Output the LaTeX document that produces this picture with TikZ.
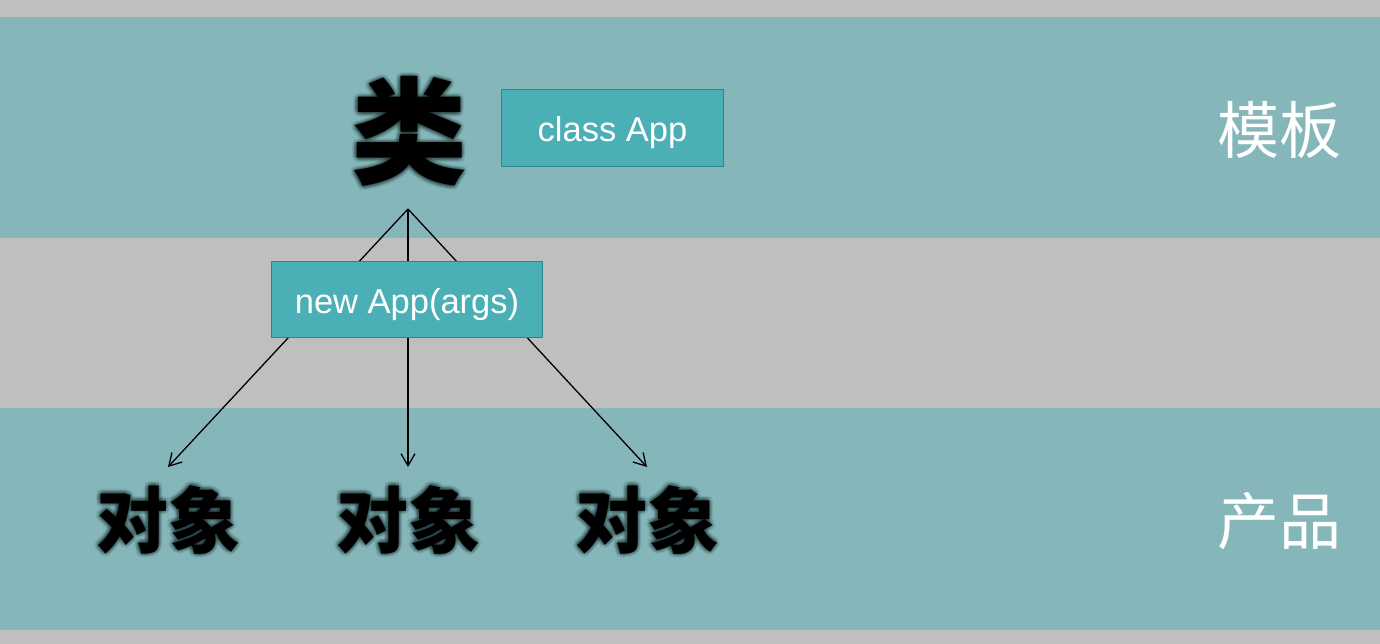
\documentclass[tikz,border=0pt]{standalone}
\usepackage{fontspec}
\setmainfont{Liberation Sans}
\newfontfamily\cjk{Noto Sans CJK SC}
\usetikzlibrary{arrows.meta,calc}
\definecolor{bggray}{HTML}{BFBFBF}
\definecolor{band}{HTML}{85B7BA}
\definecolor{boxfill}{HTML}{4BAFB6}
\definecolor{boxline}{HTML}{2F8489}
\definecolor{glow}{HTML}{0F2526}
\tikzset{
  codebox/.style={draw=boxline, line width=1.5pt, fill=boxfill, text=white,
    font=\fontsize{34.5}{40}\selectfont, inner sep=0pt, anchor=center,
    text height=27pt, text depth=0pt},
  bigcjk/.style={font=\cjk\bfseries\fontsize{116}{120}\selectfont, inner sep=0pt, anchor=base},
  objcjk/.style={font=\cjk\bfseries\fontsize{72}{80}\selectfont, inner sep=0pt, anchor=base},
  sidecjk/.style={font=\cjk\fontsize{62}{70}\selectfont, inner sep=0pt, anchor=base, text=white},
  glowcopy/.style={text=glow, opacity=0.05},
  link/.style={draw=black, line width=1.3pt},
  arr/.style={link, -{Straight Barb[length=12pt,width=14pt,line width=1.3pt]}}
}
\begin{document}
\begin{tikzpicture}[x=1pt,y=-1pt]
\useasboundingbox (0,0) rectangle (1380,644);
\fill[bggray] (0,0) rectangle (1380,644);
\fill[band] (0,17) rectangle (1380,238);
\fill[band] (0,408) rectangle (1380,630);

% soft glow copies
\foreach \ang in {0,30,...,330} {
  \foreach \r in {1.5,3,4.5} {
    \node[bigcjk,glowcopy] (glowA-\ang-\r) at ($(409,176)+(\ang:\r)$) {类};
    \node[objcjk,glowcopy] (glowB-\ang-\r) at ($(168,547)+(\ang:\r)$) {对象};
    \node[objcjk,glowcopy] (glowC-\ang-\r) at ($(408,547)+(\ang:\r)$) {对象};
    \node[objcjk,glowcopy] (glowD-\ang-\r) at ($(647,547)+(\ang:\r)$) {对象};
  }
}

\node[bigcjk] (cls) at (409,176) {类};
\node[objcjk] (o1) at (168,547) {对象};
\node[objcjk] (o2) at (408,547) {对象};
\node[objcjk] (o3) at (647,547) {对象};

\node[sidecjk] (tpl) at (1279,154) {模板};
\node[sidecjk] (prd) at (1279,544) {产品};

\coordinate (apex) at (408,209);
\coordinate (t1) at (168,467);
\coordinate (t2) at (408,467);
\coordinate (t3) at (647,467);
\draw[arr] (apex) -- (t1);
\draw[arr] (apex) -- (t2);
\draw[arr] (apex) -- (t3);

\node[codebox, minimum width=222pt, minimum height=77pt] (cbox) at (612.5,128) {class App};
\node[codebox, minimum width=271pt, minimum height=76pt] (nbox) at (407,299.5) {new App(args)};
\end{tikzpicture}
\end{document}
